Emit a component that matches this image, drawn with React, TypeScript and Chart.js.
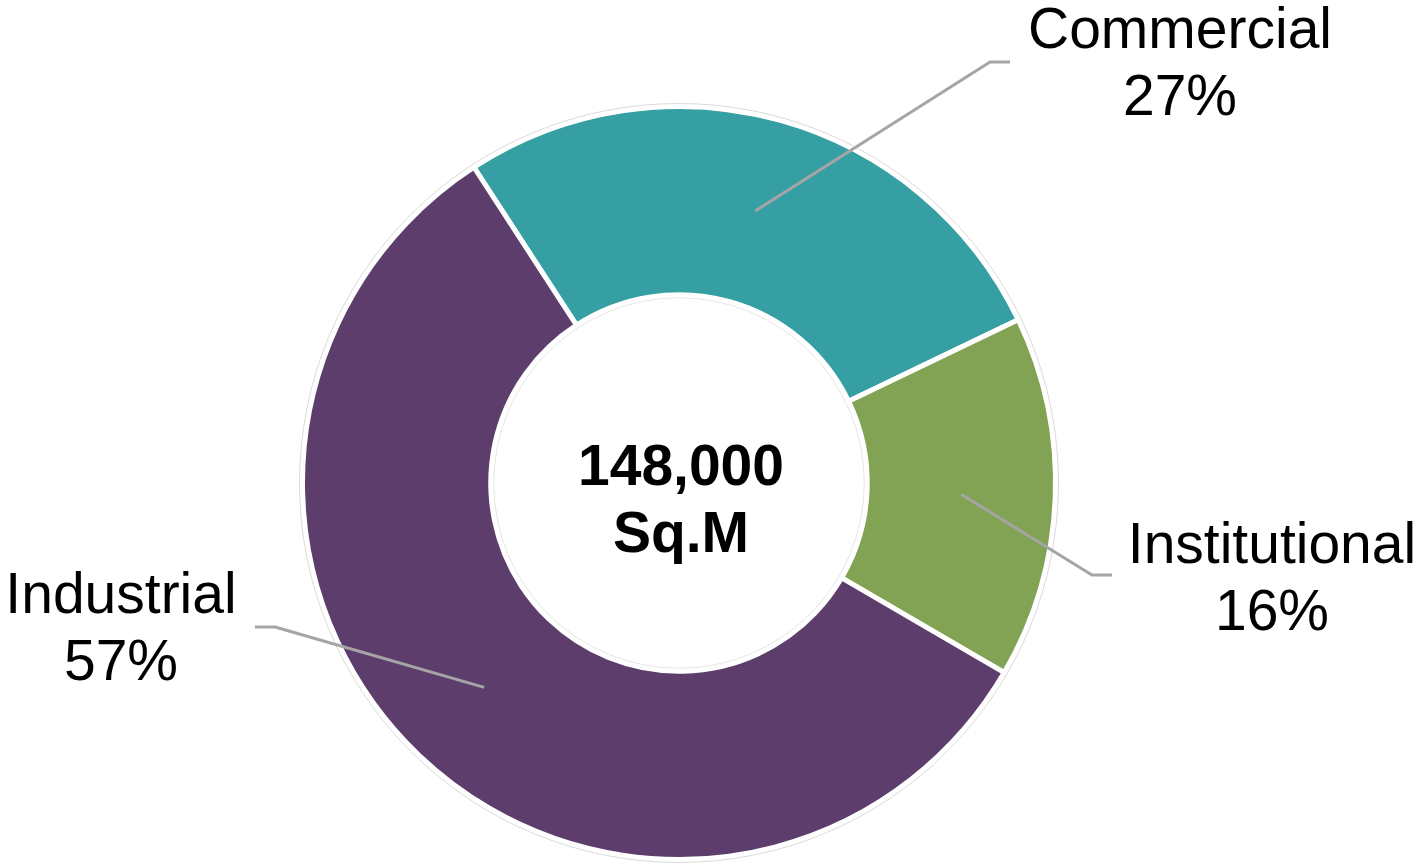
import React, { useEffect, useRef } from "react";
import { Chart, registerables } from "chart.js";

Chart.register(...registerables);

const categories = ["Commercial", "Institutional", "Industrial"];
const areaValues = [40000, 23000, 85000];
const sliceColors = ["#369FA3", "#82A354", "#5D3D6C"];
const centerLines = ["148,000", "Sq.M"];

// label layout: elbow/end of leader and text anchor, relative to chart centre
const labelLayout = [
  { elbow: [311, -421], end: [331, -421], text: [501, -435] },
  { elbow: [413, 92], end: [433, 92], text: [593, 80] },
  { elbow: [-404, 144], end: [-424, 144], text: [-558, 130] },
];

const FONT = "'Liberation Sans', Arial, sans-serif";

const decorPlugin = {
  id: "decor",
  afterDatasetsDraw(chart: any) {
    const ctx = chart.ctx as CanvasRenderingContext2D;
    const meta = chart.getDatasetMeta(0);
    const total = areaValues.reduce((a, b) => a + b, 0);
    if (!meta.data.length) return;
    const first = meta.data[0].getProps(["x", "y", "innerRadius", "outerRadius"], true);
    const cx = first.x;
    const cy = first.y;

    // faint outline rings
    ctx.save();
    ctx.strokeStyle = "#DADADA";
    ctx.lineWidth = 1;
    ctx.beginPath();
    ctx.arc(cx, cy, first.outerRadius + 3, 0, Math.PI * 2);
    ctx.stroke();
    ctx.strokeStyle = "#E6E6E6";
    ctx.beginPath();
    ctx.arc(cx, cy, first.innerRadius - 3, 0, Math.PI * 2);
    ctx.stroke();
    ctx.restore();

    meta.data.forEach((arc: any, i: number) => {
      const p = arc.getProps(["x", "y", "startAngle", "endAngle", "innerRadius", "outerRadius"], true);
      const mid = (p.startAngle + p.endAngle) / 2;
      const r = (p.innerRadius + p.outerRadius) / 2;
      const sx = p.x + Math.cos(mid) * r;
      const sy = p.y + Math.sin(mid) * r;
      const L = labelLayout[i];
      ctx.save();
      ctx.strokeStyle = "#A5A5A5";
      ctx.lineWidth = 3;
      ctx.lineJoin = "round";
      ctx.beginPath();
      ctx.moveTo(sx, sy);
      ctx.lineTo(cx + L.elbow[0], cy + L.elbow[1]);
      ctx.lineTo(cx + L.end[0], cy + L.end[1]);
      ctx.stroke();
      ctx.fillStyle = "#000000";
      ctx.font = `57px ${FONT}`;
      ctx.textAlign = "center";
      ctx.textBaseline = "alphabetic";
      const pct = Math.round((areaValues[i] / total) * 100) + "%";
      ctx.fillText(categories[i], cx + L.text[0], cy + L.text[1]);
      ctx.fillText(pct, cx + L.text[0], cy + L.text[1] + 67);
      ctx.restore();
    });

    ctx.save();
    ctx.fillStyle = "#000000";
    ctx.font = `bold 57px ${FONT}`;
    ctx.textAlign = "center";
    ctx.textBaseline = "alphabetic";
    ctx.fillText(centerLines[0], cx + 2, cy + 2);
    ctx.fillText(centerLines[1], cx + 2, cy + 69);
    ctx.restore();
  },
};

export default function App() {
  const ref = useRef<HTMLCanvasElement>(null);
  useEffect(() => {
    if (!ref.current) return;
    const chart = new Chart(ref.current, {
      type: "doughnut",
      data: {
        labels: categories,
        datasets: [
          {
            data: areaValues,
            backgroundColor: sliceColors,
            borderColor: "#FFFFFF",
            borderWidth: 5,
          },
        ],
      },
      options: {
        responsive: false,
        animation: false,
        rotation: -33,
        cutout: "50%",
        layout: { padding: { left: 300, top: 104, right: 363, bottom: 6 } },
        plugins: {
          legend: { display: false },
          tooltip: { enabled: false },
        },
      },
      plugins: [decorPlugin],
    });
    return () => chart.destroy();
  }, []);
  return (
    <div style={{ position: "absolute", left: 0, top: 0, width: 1421, height: 868, background: "#FFFFFF" }}>
      <canvas ref={ref} width={1421} height={868} />
    </div>
  );
}
